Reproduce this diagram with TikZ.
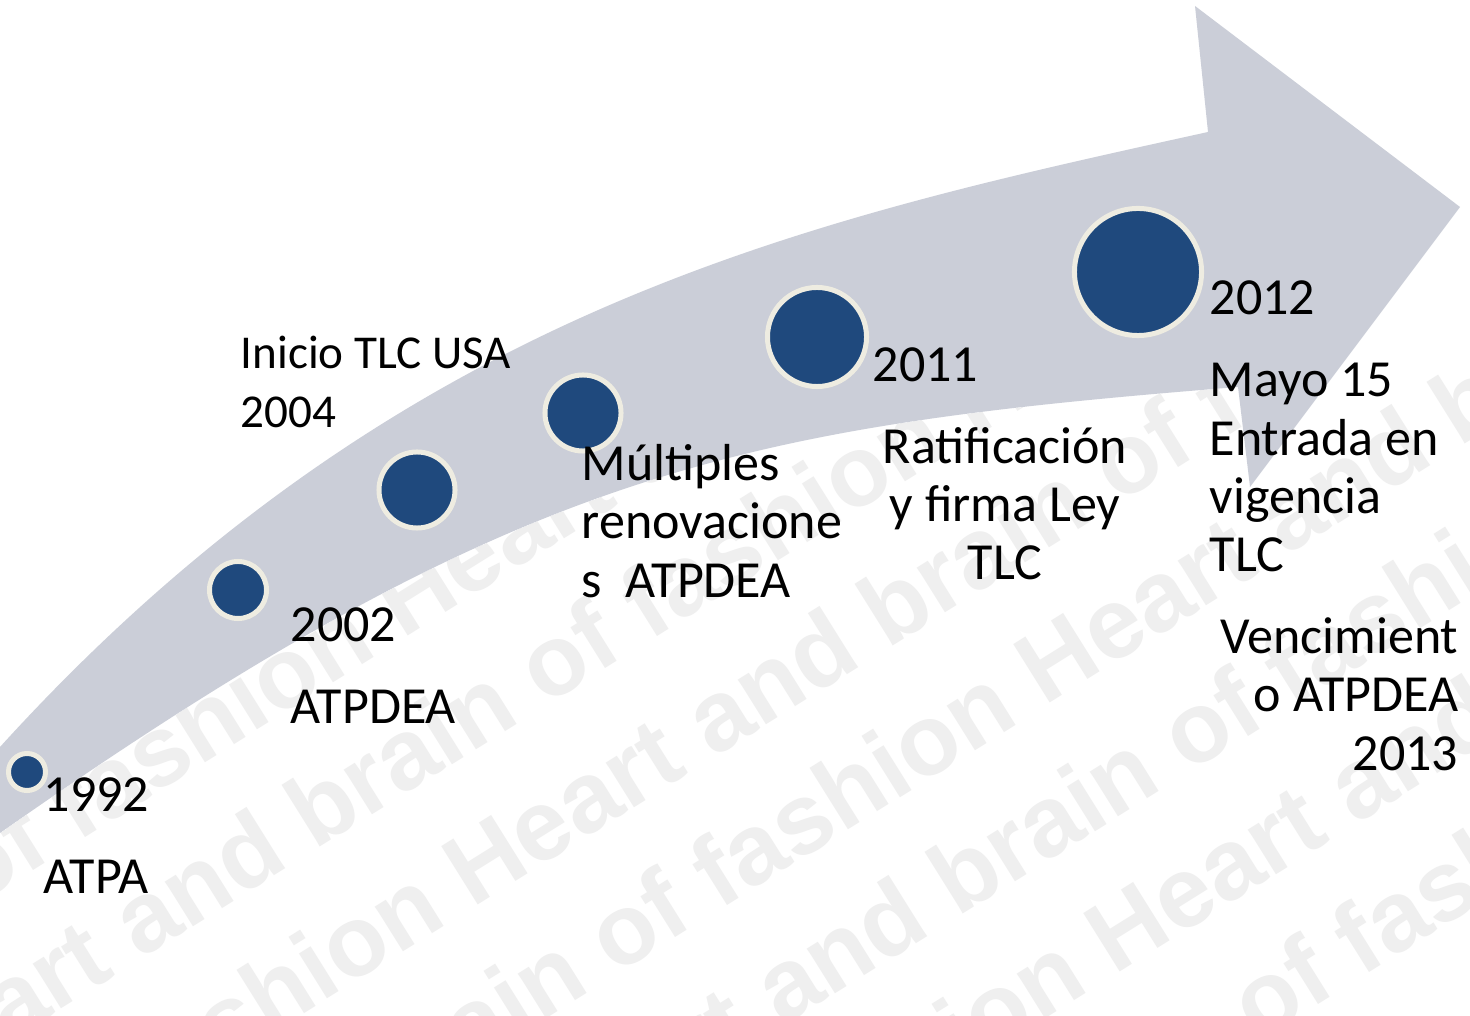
\documentclass[tikz,border=0pt]{standalone}
\usepackage{fontspec}
\setmainfont{Carlito}
\newfontfamily\marcafont{Liberation Sans}
\usepackage{tikz}

\definecolor{grisflecha}{HTML}{CBCED8}
\definecolor{azulhito}{HTML}{1F497D}
\definecolor{bordehito}{HTML}{EEECE1}
\definecolor{marca}{HTML}{EFEFEF}

\newcommand{\textogrande}{\fontsize{14.8pt}{16.6pt}\selectfont}
\newcommand{\textomedio}{\fontsize{13.4pt}{16.8pt}\selectfont}

\tikzset{
  hito/.style={circle, fill=azulhito, draw=bordehito, line width=0.05cm, inner sep=0pt},
  rotulo/.style={inner sep=0pt, anchor=base west, align=left, font=\textogrande},
  marcaagua/.style={inner sep=0pt, anchor=base west, rotate=32, text=marca,
                    font=\marcafont\bfseries\fontsize{28.45pt}{30pt}\selectfont},
}

\begin{document}
\begin{tikzpicture}[x=0.01cm,y=-0.01cm]
\useasboundingbox (0,0) rectangle (1470,1016);
\fill[white] (0,0) rectangle (1470,1016);

% marca de agua, solo bajo la flecha
\begin{scope}
\clip (0,833) .. controls (520,468) and (738,427) .. (1238,387)
   -- (1470,330) -- (1470,1016) -- (0,1016) -- cycle;
\foreach \k in {-4,...,5}{
  \pgfmathsetmacro\desp{mod(178-380*\k+12670,1267)+1267}
  \node[marcaagua] (marca\k) at ({50+250*\k-0.848*\desp},{1016+0.530*\desp})
    {Heart and brain of fashion Heart and brain of fashion Heart and brain of fashion Heart and brain of fashion};
}
\end{scope}

% flecha curva
\fill[grisflecha] (0,833) .. controls (520,468) and (738,427) .. (1238,387)
   -- (1250,487) -- (1460,207) -- (1195,6) -- (1208,132)
   .. controls (808,220) and (400,307) .. (0,747) -- cycle;

% hitos
\node[hito, minimum size=0.37cm] (h1992) at (27,772) {};
\node[hito, minimum size=0.57cm] (h2002) at (238,590) {};
\node[hito, minimum size=0.76cm] (h2004) at (417,490) {};
\node[hito, minimum size=0.76cm] (hmult) at (583,413) {};
\node[hito, minimum size=0.99cm] (h2011) at (817,337) {};
\node[hito, minimum size=1.27cm] (h2012) at (1138,272) {};

% rotulos (el ancla base es la ultima linea)
\node[rotulo] (t1992) at (43,893) {1992\\[6.6pt]ATPA};
\node[rotulo] (t2002) at (290,723) {2002\\[6.6pt]ATPDEA};
\node[rotulo, font=\textomedio] (t2004) at (240,428) {Inicio TLC USA\\2004};
\node[rotulo] (tmult) at (581,597) {Múltiples\\renovacione\\s\ \ ATPDEA};
\node[rotulo] (t2011) at (872,382) {2011};
\node[rotulo, anchor=base, align=center] (tley) at (1005,580) {Ratificación\\y firma Ley\\TLC};
\node[rotulo] (t2012) at (1209,315) {2012};
\node[rotulo] (tmayo) at (1209,572) {Mayo 15\\Entrada en\\vigencia\\TLC};
\node[rotulo, anchor=base east, align=right] (tvence) at (1459,770) {Vencimient\\o ATPDEA\\2013};
\end{tikzpicture}
\end{document}
